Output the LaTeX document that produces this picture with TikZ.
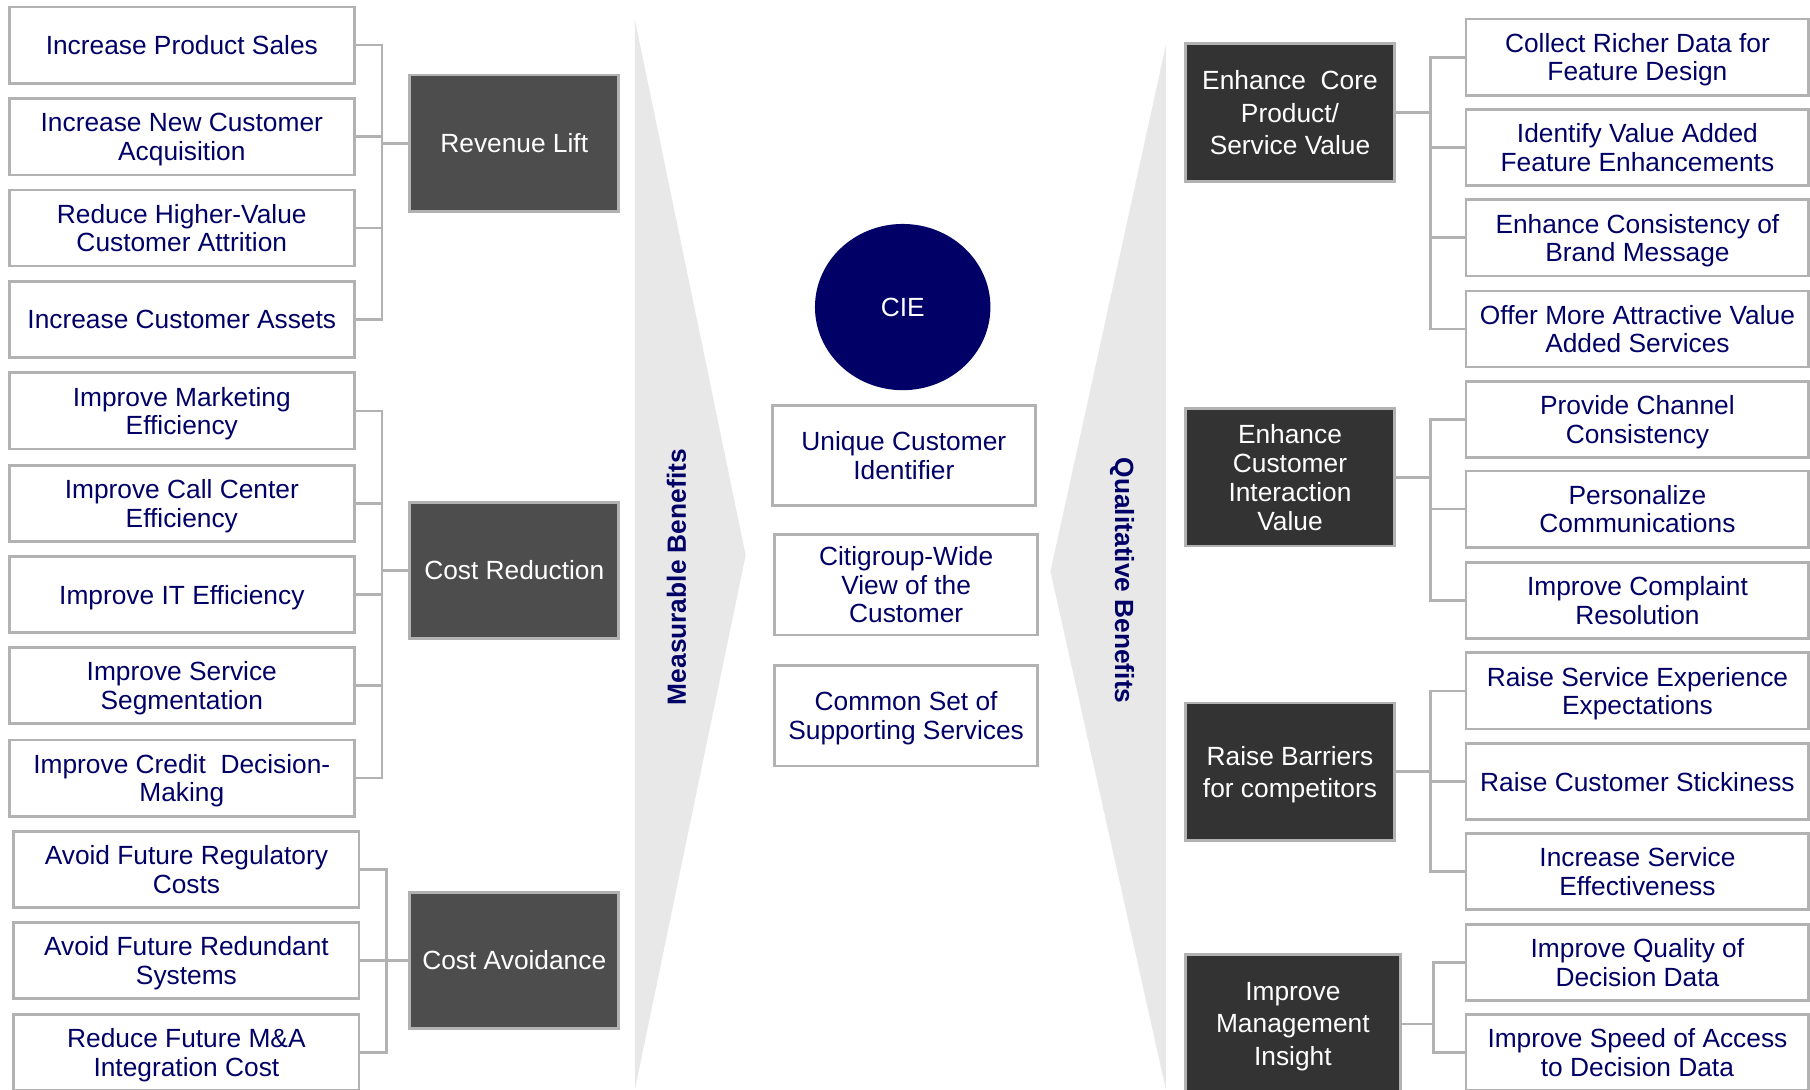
\documentclass[tikz,border=0pt]{standalone}
\usepackage{fontspec}
\setmainfont{Liberation Sans}
\usetikzlibrary{shapes.geometric}
\definecolor{citinavy}{RGB}{0,0,102}
\definecolor{boxgray}{RGB}{178,178,178}
\definecolor{chevgray}{RGB}{232,232,232}
\definecolor{darkleft}{RGB}{77,77,77}
\definecolor{darkright}{RGB}{51,51,51}

\begin{document}
\begin{tikzpicture}[x=0.5pt, y=-0.5pt,
    goal/.style={draw=boxgray, line width=1.2pt, fill=white, align=center, text=citinavy,
      font=\fontsize{11.4}{12.4}\selectfont, inner sep=0pt, text depth=0pt,
      minimum width=149.5pt, minimum height=33pt},
    rgoal/.style={goal, minimum width=148.5pt},
    pillar/.style={goal, minimum width=114pt, minimum height=43.5pt},
    lhead/.style={draw=boxgray, line width=1.2pt, fill=darkleft, text=white, align=center,
      font=\fontsize{11.4}{13.5}\selectfont, inner sep=0pt, text depth=0pt,
      minimum width=90.5pt, minimum height=59pt},
    rhead/.style={lhead, fill=darkright, minimum height=59.5pt, font=\fontsize{11.4}{14}\selectfont},
    side/.style={text=citinavy, font=\fontsize{11.4}{13}\selectfont\bfseries},
    link/.style={draw=boxgray, line width=1.2pt}]
  \useasboundingbox (0,0) rectangle (1568,944);

  % arrows behind the middle
  \fill[chevgray] (550,17) -- (646,481) -- (550,944) -- cycle;
  \fill[chevgray] (1010,39) -- (910,495) -- (1010,944) -- cycle;
  \node[side, rotate=90] (meas) at (586,500) {Measurable Benefits};
  \node[side, rotate=-90] (qual) at (972,503) {Qualitative Benefits};

  % measurable side
  \node[goal] (l1) at (157.5,39) {Increase Product Sales};
  \node[goal] (l2) at (157.5,118.5) {Increase New Customer\\Acquisition};
  \node[goal] (l3) at (157.5,197.5) {Reduce Higher-Value\\Customer Attrition};
  \node[goal] (l4) at (157.5,277) {Increase Customer Assets};
  \node[goal] (l5) at (157.5,356) {Improve Marketing\\Efficiency};
  \node[goal] (l6) at (157.5,436) {Improve Call Center\\Efficiency};
  \node[goal] (l7) at (157.5,515) {Improve IT Efficiency};
  \node[goal] (l8) at (157.5,594) {Improve Service\\Segmentation};
  \node[goal] (l9) at (157.5,674) {Improve Credit~ Decision-\\Making};
  \node[goal] (l10) at (161.5,753) {Avoid Future Regulatory\\Costs};
  \node[goal] (l11) at (161.5,832) {Avoid Future Redundant\\Systems};
  \node[goal] (l12) at (161.5,912) {Reduce Future M\&A\\Integration Cost};

  \node[lhead] (rev) at (445.5,124) {Revenue Lift};
  \node[lhead] (cred) at (445.5,494) {Cost Reduction};
  \node[lhead] (cavd) at (445.5,832) {Cost Avoidance};

  \coordinate (jrev) at (331,124);
  \coordinate (jcred) at (331,494);
  \coordinate (jcavd) at (335,832);

  \draw[link] (rev) -- (jrev);
  \draw[link] (l1.east) -| (jrev);
  \draw[link] (l2.east) -| (jrev);
  \draw[link] (l3.east) -| (jrev);
  \draw[link] (l4.east) -| (jrev);

  \draw[link] (cred) -- (jcred);
  \draw[link] (l5.east) -| (jcred);
  \draw[link] (l6.east) -| (jcred);
  \draw[link] (l7.east) -| (jcred);
  \draw[link] (l8.east) -| (jcred);
  \draw[link] (l9.east) -| (jcred);

  \draw[link] (cavd) -- (jcavd);
  \draw[link] (l10.east) -| (jcavd);
  \draw[link] (l11.east) -| (jcavd);
  \draw[link] (l12.east) -| (jcavd);

  % middle
  \node[ellipse, fill=citinavy, text=white, inner sep=0pt, minimum width=76pt, minimum height=72pt,
    font=\fontsize{11.4}{13}\selectfont] (cie) at (782,266) {CIE};
  \node[pillar] (u1) at (783,394.5) {Unique Customer\\Identifier};
  \node[pillar] (u2) at (785,506.5) {Citigroup-Wide\\View of the\\Customer};
  \node[pillar] (u3) at (785,620) {Common Set of\\Supporting Services};

  % qualitative side
  \node[rhead] (core) at (1117.5,97.5) {Enhance~ Core\\Product/\\Service Value};
  \node[rhead, font=\fontsize{11.4}{12.5}\selectfont] (cust) at (1117.5,413.5) {Enhance\\Customer\\Interaction\\Value};
  \node[rhead] (barr) at (1117.5,668.5) {Raise Barriers\\for competitors};
  \node[rhead, minimum width=93pt, minimum height=60pt] (mgmt) at (1120,887) {Improve\\Management\\Insight};

  \node[rgoal] (r1) at (1418.5,49.5) {Collect Richer Data for\\Feature Design};
  \node[rgoal] (r2) at (1418.5,128) {Identify Value Added\\Feature Enhancements};
  \node[rgoal] (r3) at (1418.5,206) {Enhance Consistency of\\Brand Message};
  \node[rgoal] (r4) at (1418.5,285) {Offer More Attractive Value\\Added Services};
  \node[rgoal] (r5) at (1418.5,363.5) {Provide Channel\\Consistency};
  \node[rgoal] (r6) at (1418.5,441) {Personalize\\Communications};
  \node[rgoal] (r7) at (1418.5,520) {Improve Complaint\\Resolution};
  \node[rgoal] (r8) at (1418.5,598.5) {Raise Service Experience\\Expectations};
  \node[rgoal] (r9) at (1418.5,677) {Raise Customer Stickiness};
  \node[rgoal] (r10) at (1418.5,755) {Increase Service\\Effectiveness};
  \node[rgoal] (r11) at (1418.5,834) {Improve Quality of\\Decision Data};
  \node[rgoal] (r12) at (1418.5,912) {Improve Speed of Access\\to Decision Data};

  \coordinate (jcore) at (1239,97.5);
  \coordinate (jcust) at (1239,413.5);
  \coordinate (jbarr) at (1239,668.5);
  \coordinate (jmgmt) at (1242,887);

  \draw[link] (core) -- (jcore);
  \draw[link] (r1.west) -| (jcore);
  \draw[link] (r2.west) -| (jcore);
  \draw[link] (r3.west) -| (jcore);
  \draw[link] (r4.west) -| (jcore);

  \draw[link] (cust) -- (jcust);
  \draw[link] (r5.west) -| (jcust);
  \draw[link] (r6.west) -| (jcust);
  \draw[link] (r7.west) -| (jcust);

  \draw[link] (barr) -- (jbarr);
  \draw[link] (r8.west) -| (jbarr);
  \draw[link] (r9.west) -| (jbarr);
  \draw[link] (r10.west) -| (jbarr);

  \draw[link] (mgmt) -- (jmgmt);
  \draw[link] (r11.west) -| (jmgmt);
  \draw[link] (r12.west) -| (jmgmt);
\end{tikzpicture}
\end{document}
